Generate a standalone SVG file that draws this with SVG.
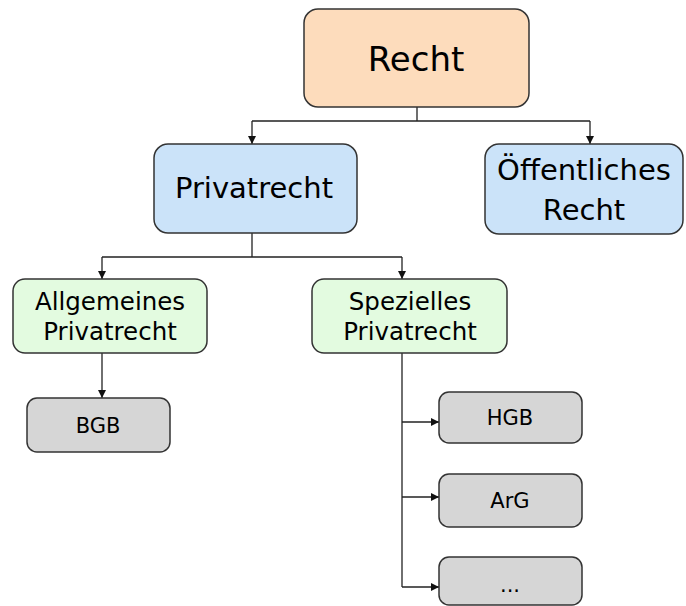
<svg xmlns="http://www.w3.org/2000/svg" width="686" height="606" viewBox="0 0 686 606">
<style>
.box{stroke:#333;stroke-width:1.5}
.c1{fill:#fddcbc}
.c2{fill:#cbe3f9}
.c3{fill:#e3fbe0}
.c4{fill:#d6d6d6}
text{font-family:"DejaVu Sans",Verdana,sans-serif;fill:#000;text-anchor:middle}
.con{fill:none;stroke:#222;stroke-width:1.3}
</style>
<defs>
<marker id="ar" viewBox="0 0 10 10" refX="10" refY="5" markerWidth="8" markerHeight="8" markerUnits="userSpaceOnUse" orient="auto">
<path d="M0,0 L10,5 L0,10 Z" fill="#111"/>
</marker>
</defs>
<g id="connectors">
<path class="con" d="M417,107 V121 M252,121 H590"/>
<path class="con" d="M252,121 V144" marker-end="url(#ar)"/>
<path class="con" d="M590,121 V144" marker-end="url(#ar)"/>
<path class="con" d="M252,233 V257 M102,257 H402"/>
<path class="con" d="M102,257 V279" marker-end="url(#ar)"/>
<path class="con" d="M402,257 V279" marker-end="url(#ar)"/>
<path class="con" d="M102,353 V398" marker-end="url(#ar)"/>
<path class="con" d="M402,353 V587"/>
<path class="con" d="M402,422 H439" marker-end="url(#ar)"/>
<path class="con" d="M402,497 H439" marker-end="url(#ar)"/>
<path class="con" d="M402,587 H439" marker-end="url(#ar)"/>
</g>
<g id="recht">
<rect class="box c1" x="304" y="9" width="225" height="98" rx="14"/>
<text x="416" y="71" font-size="34">Recht</text>
</g>
<g id="privatrecht">
<rect class="box c2" x="154" y="144" width="203" height="89" rx="14"/>
<text x="254" y="198" font-size="29">Privatrecht</text>
</g>
<g id="oeffentliches">
<rect class="box c2" x="485" y="144" width="198" height="90" rx="14"/>
<text x="584" y="180" font-size="29">Öffentliches</text>
<text x="584" y="220" font-size="29">Recht</text>
</g>
<g id="allgemeines">
<rect class="box c3" x="13" y="279" width="194" height="74" rx="12"/>
<text x="110" y="310" font-size="24.5">Allgemeines</text>
<text x="110" y="340" font-size="24.5">Privatrecht</text>
</g>
<g id="spezielles">
<rect class="box c3" x="312" y="279" width="195" height="74" rx="12"/>
<text x="410" y="310" font-size="24.5">Spezielles</text>
<text x="410" y="340" font-size="24.5">Privatrecht</text>
</g>
<g id="bgb">
<rect class="box c4" x="27" y="398" width="143" height="54" rx="10"/>
<text x="98" y="433" font-size="21">BGB</text>
</g>
<g id="hgb">
<rect class="box c4" x="439" y="392" width="143" height="51" rx="10"/>
<text x="510" y="425" font-size="21">HGB</text>
</g>
<g id="arg">
<rect class="box c4" x="439" y="474" width="143" height="53" rx="10"/>
<text x="510" y="508" font-size="21">ArG</text>
</g>
<g id="more">
<rect class="box c4" x="439" y="557" width="143" height="48" rx="10"/>
<text x="510" y="592" font-size="21">...</text>
</g>
</svg>
